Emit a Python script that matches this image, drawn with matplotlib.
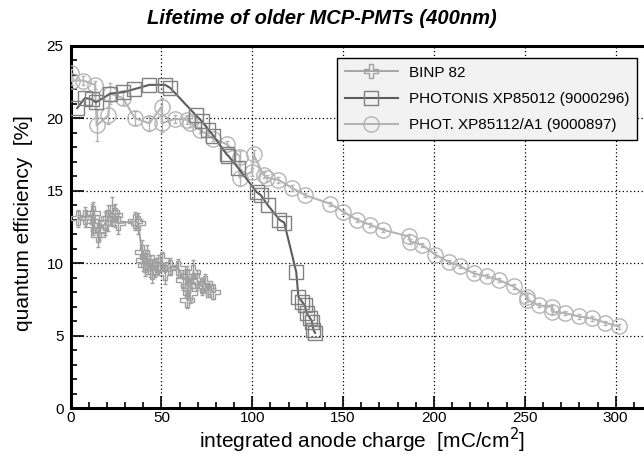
import matplotlib
matplotlib.use("Agg")
import matplotlib.pyplot as plt
from matplotlib.lines import Line2D
from matplotlib.ticker import MultipleLocator

plt.rcParams['font.family'] = ['Liberation Sans', 'DejaVu Sans']

# BINP 82 measurements
binp_x = [4.3, 8, 11.7, 12.6, 12.6, 15.3, 15.9, 19, 20.8, 22.7, 24.5, 26.3, 35.5, 37.3,
          39.2, 40.1, 41, 41.9, 43.8, 44.7, 46.5, 48.3, 50.2, 52, 54.8, 59.4, 62.1, 64,
          64.9, 64, 65.8, 67.6, 69.5, 72.2, 74.1, 75.9, 78.6]
binp_y = [13.1, 13.2, 13.2, 13.45, 12.65, 11.95, 12.3, 12.75, 13.1, 13.55, 13.3, 12.75,
          12.9, 12.75, 10.8, 10.2, 9.9, 10.45, 9.77, 9.43, 9.66, 9.9, 10.2, 9.3, 9.77,
          9.66, 8.86, 9.1, 8.4, 7.5, 7.94, 9.43, 8.86, 8.4, 8.63, 8.17, 8.05]
binp_err = [0.6, 0.7, 0.9, 0.8, 0.7, 0.8, 0.7, 0.8, 0.9, 1.0, 0.8, 0.7, 0.6, 0.7,
            0.8, 0.7, 0.8, 0.8, 0.7, 0.8, 0.6, 0.7, 0.6, 0.7, 0.6, 0.6, 0.7, 0.7,
            0.7, 0.6, 0.7, 0.8, 0.7, 0.6, 0.6, 0.5, 0.5]

# PHOTONIS XP85012 (9000296)
pho_x = [3.7, 8, 11.7, 14, 22, 29, 35, 43.4, 52, 54.8, 69, 72.2, 75.9, 78.6, 86, 86.9,
         92.4, 102.5, 104.7, 108.6, 115, 117.6, 124.2, 125.4, 127.3, 128.9, 130, 131.9,
         132.8, 133.7, 134.6]
pho_y = [20.7, 21.4, 21.3, 21.1, 21.7, 21.8, 22.0, 22.3, 22.3, 22.1, 20.2, 19.8, 19.2,
         18.8, 17.5, 17.4, 16.55, 14.9, 14.7, 14.0, 13.0, 12.8, 9.4, 7.7, 7.36, 7.1,
         6.55, 6.2, 5.98, 5.4, 5.2]

# PHOT. XP85112/A1 (9000897)
a1_x = [0, 0.7, 7, 13.5, 14.4, 20.8, 21.8, 28.7, 35.5, 43.4, 50.2, 50.2, 57.5, 64, 65.8,
        71.3, 78.6, 86, 93.3, 93, 99.8, 100.7, 106.2, 108, 114.4, 121.8, 129.1, 142.9,
        150.2, 157.6, 165, 172.2, 186, 187, 193.4, 200.7, 208, 214.5, 221.8, 229.2,
        235.6, 243.8, 251.2, 251.2, 257.6, 265, 265, 272.3, 279.6, 286.9, 294.3, 301.6]
a1_y = [23.1, 22.6, 22.6, 22.3, 19.5, 20.2, 21.7, 21.4, 20.0, 19.65, 20.8, 19.65, 19.95,
        19.9, 19.7, 19.2, 18.6, 18.2, 17.35, 15.9, 16.3, 17.5, 16.1, 15.9, 15.75, 15.2,
        14.7, 14.1, 13.55, 13.0, 12.65, 12.3, 11.85, 11.5, 11.27, 10.6, 10.1, 9.8, 9.3,
        9.1, 8.85, 8.4, 7.7, 7.5, 7.1, 7.0, 6.67, 6.56, 6.33, 6.2, 5.9, 5.64]
a1_err = [0.3, 0.3, 0.3, 0.3, 1.1, 0.6, 0.7, 0.5, 0.5, 0.5, 0.6, 0.6, 0.3, 0.3, 0.3,
          0.2, 0.2, 0.2, 0.4, 0.6, 0.3, 0.3, 0.2, 0.2, 0.2, 0.2, 0.15, 0.15,
          0.15, 0.15, 0.15, 0.15, 0.15, 0.15, 0.15, 0.15, 0.15, 0.15, 0.15, 0.15,
          0.15, 0.15, 0.15, 0.15, 0.15, 0.15, 0.15, 0.15, 0.15, 0.15, 0.15, 0.15]

labels = ['BINP 82', 'PHOTONIS XP85012 (9000296)', 'PHOT. XP85112/A1 (9000897)']
c_binp, c_pho_line, c_pho_mk, c_a1 = '#a0a0a0', '#5c5c5c', '#808080', '#b4b4b4'

W, H = 644, 462
fig = plt.figure(figsize=(W / 100, H / 100), dpi=100)
ax = fig.add_axes([70.5 / W, (H - 408.3) / H, 1 - 70.5 / W, (408.3 - 45.7) / H])

ax.errorbar(binp_x, binp_y, yerr=binp_err, color=c_binp, lw=1.3, marker='P',
            ms=10, mfc='none', mec=c_binp, mew=1.0, elinewidth=1.0, capsize=1.5,
            zorder=3)
ax.plot(pho_x, pho_y, color=c_pho_line, lw=1.5, marker='s', ms=10, mfc='none',
        mec=c_pho_mk, mew=1.0, zorder=4)
ax.errorbar(a1_x, a1_y, yerr=a1_err, color=c_a1, lw=1.5, marker='o', ms=11,
            mfc='none', mec=c_a1, mew=1.0, elinewidth=1.0, capsize=1.5, zorder=3)

ax.set_xlim(0, (W - 70.5) / (615.7 - 70.5) * 300)
ax.set_ylim(0, 25)
ax.xaxis.set_major_locator(MultipleLocator(50))
ax.xaxis.set_minor_locator(MultipleLocator(10))
ax.yaxis.set_major_locator(MultipleLocator(5))
ax.yaxis.set_minor_locator(MultipleLocator(1))
ax.tick_params(which='both', direction='in', top=False, right=False, width=1.2,
               labelsize=11)
ax.tick_params(which='major', length=9)
ax.tick_params(which='minor', length=4.5)
ax.tick_params(axis='y', pad=5)
ax.tick_params(axis='x', pad=2)
ax.grid(True, which='major', color='black', ls=(0, (1, 2)), lw=0.9)
ax.set_axisbelow(True)
for side in ['left', 'bottom', 'top']:
    ax.spines[side].set_linewidth(2.2)
ax.spines['right'].set_visible(False)

fig.text(0.5, 1 - 18 / H, 'Lifetime of older MCP-PMTs (400nm)', ha='center',
         va='center', fontsize=14.5, fontweight='bold', fontstyle='italic')
fig.text(525 / W, 1 - 440 / H, 'integrated anode charge  [mC/cm$^2$]', ha='right',
         va='center', fontsize=15)
fig.text(24 / W, 1 - 115 / H, 'quantum efficiency  [%]', ha='center', va='top',
         rotation=90, fontsize=15)

# legend entries show only line + marker
handles = [
    Line2D([], [], color=c_binp, lw=1.3, marker='P', ms=10, mfc='none', mec=c_binp),
    Line2D([], [], color=c_pho_line, lw=1.5, marker='s', ms=10, mfc='none', mec=c_pho_mk),
    Line2D([], [], color=c_a1, lw=1.5, marker='o', ms=11, mfc='none', mec=c_a1),
]
leg = ax.legend(handles, labels, loc='upper left', bbox_to_anchor=(337 / W, 1 - 58 / H),
                bbox_transform=fig.transFigure, borderaxespad=0, fancybox=False,
                edgecolor='black', facecolor='#f2f2f2', framealpha=1, fontsize=11,
                handlelength=3.5, handletextpad=0.7, labelspacing=0.8,
                borderpad=0.5)
leg.get_frame().set_linewidth(1.0)

fig.savefig('out.png', dpi=100)
